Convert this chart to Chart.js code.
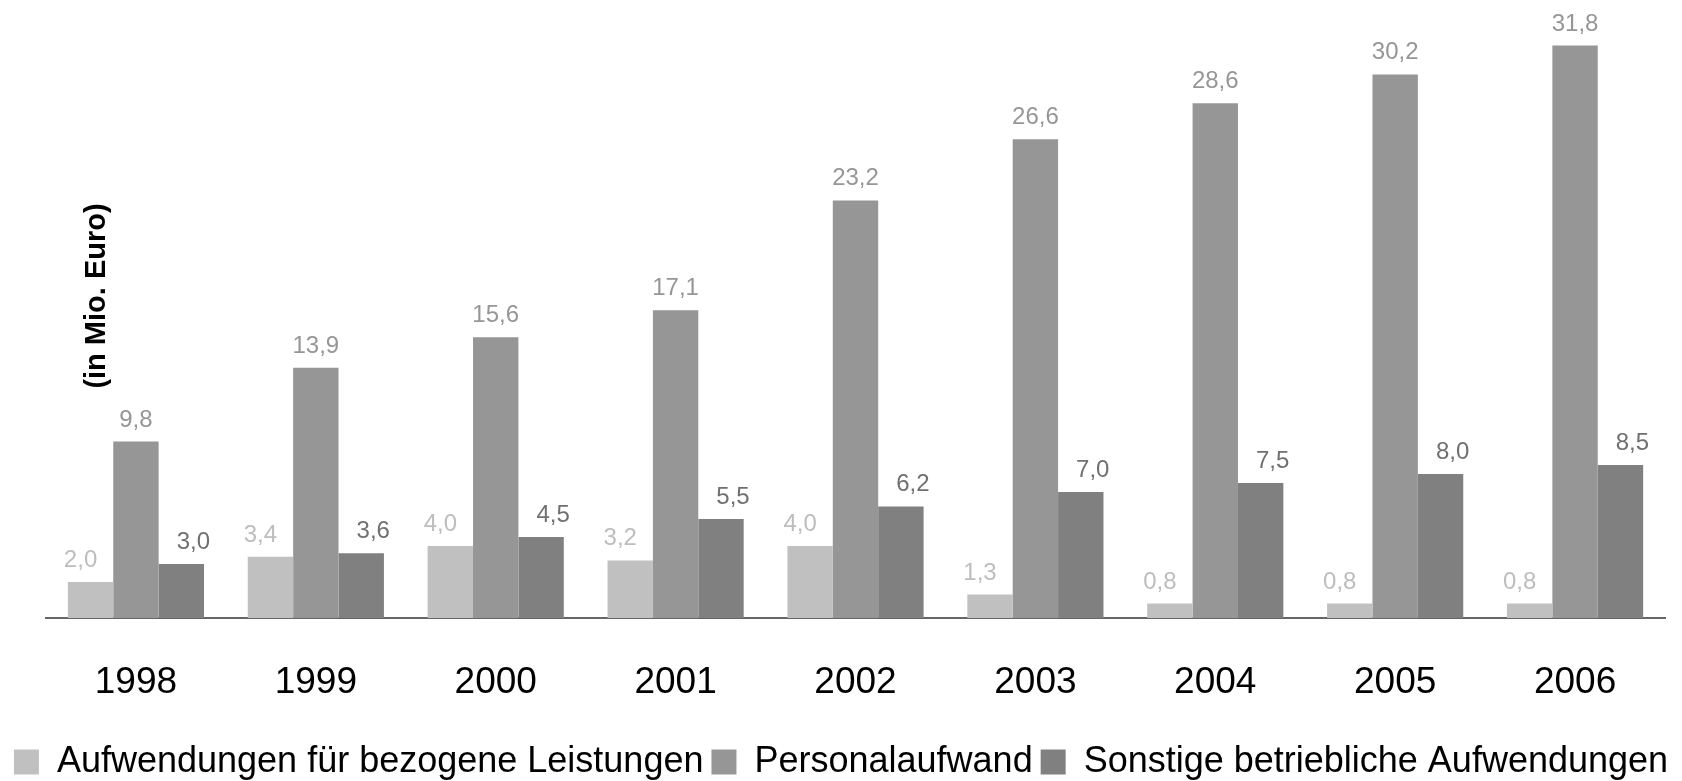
<!DOCTYPE html>
<html>
<head>
<meta charset="utf-8">
<script src="https://cdn.jsdelivr.net/npm/chart.js@4/dist/chart.umd.min.js"></script>
<style>
  body { margin: 0; background: #fff; }
  #wrap { width: 1682px; height: 781px; }
</style>
</head>
<body>
<div id="wrap"><canvas id="aufwand"></canvas></div>
<script>
var jahre = ["1998", "1999", "2000", "2001", "2002", "2003", "2004", "2005", "2006"];
var bezogeneLeistungen = [2.0, 3.4, 4.0, 3.2, 4.0, 1.3, 0.8, 0.8, 0.8];
var personalaufwand = [9.8, 13.9, 15.6, 17.1, 23.2, 26.6, 28.6, 30.2, 31.8];
var sonstigeAufwendungen = [3.0, 3.6, 4.5, 5.5, 6.2, 7.0, 7.5, 8.0, 8.5];

var schrift = '"Liberation Sans", Arial, sans-serif';

function komma(v) {
    return v.toFixed(1).replace(".", ",");
}

// Werte über den Balken
var wertLabels = {
    id: "wertLabels",
    afterDatasetsDraw: function (chart) {
        var ctx = chart.ctx;
        var farben = ["#bdbdbd", "#969696", "#707070"];
        var versatz = [-10, 0, 12];
        ctx.save();
        ctx.font = "24px " + schrift;
        ctx.textAlign = "center";
        ctx.textBaseline = "alphabetic";
        chart.data.datasets.forEach(function (ds, i) {
            chart.getDatasetMeta(i).data.forEach(function (bar, j) {
                ctx.fillStyle = farben[i];
                ctx.fillText(komma(ds.data[j]), bar.x + versatz[i], bar.y - 15);
            });
        });
        ctx.restore();
    },
};

// Achsentitel innerhalb der Fläche
var achsenTitel = {
    id: "achsenTitel",
    afterDraw: function (chart) {
        var ctx = chart.ctx;
        ctx.save();
        ctx.translate(chart.chartArea.left + 51, 296);
        ctx.rotate(-Math.PI / 2);
        ctx.font = "bold 29px " + schrift;
        ctx.fillStyle = "#000";
        ctx.textAlign = "center";
        ctx.textBaseline = "middle";
        ctx.fillText("(in Mio. Euro)", 0, 0);
        ctx.restore();
    },
};

// leere Achsen als Rand, damit die Legende die volle Breite behält
function leereAchse(position, breite) {
    return {
        position: position,
        display: true,
        min: 0,
        max: 34,
        grid: { display: false, drawTicks: false },
        border: { display: false },
        ticks: { display: false },
        afterFit: function (scale) {
            scale.width = breite;
        },
    };
}

var ctxAufwand = document.getElementById("aufwand").getContext("2d");

var chartAufwand = new Chart(ctxAufwand, {
    type: "bar",
    data: {
        labels: jahre,
        datasets: [
            {
                label: "Aufwendungen für bezogene Leistungen",
                data: bezogeneLeistungen,
                backgroundColor: "#c0c0c0",
                borderWidth: 0,
            },
            {
                label: "Personalaufwand",
                data: personalaufwand,
                backgroundColor: "#969696",
                borderWidth: 0,
            },
            {
                label: "Sonstige betriebliche Aufwendungen",
                data: sonstigeAufwendungen,
                backgroundColor: "#808080",
                borderWidth: 0,
            },
        ],
    },
    options: {
        responsive: true,
        maintainAspectRatio: false,
        animation: false,
        datasets: {
            bar: {
                barPercentage: 1.0,
                categoryPercentage: 0.757,
            },
        },
        layout: {
            padding: { left: 0, right: 0, top: 6, bottom: -9 },
        },
        plugins: {
            tooltip: { enabled: false },
            legend: {
                position: "bottom",
                labels: {
                    color: "#000",
                    boxWidth: 25,
                    boxHeight: 25,
                    padding: 8,
                    font: { family: schrift, size: 36 },
                },
            },
        },
        scales: {
            x: {
                grid: { display: false, drawTicks: false },
                border: { display: true, color: "#666", width: 2 },
                ticks: {
                    color: "#000",
                    padding: 43,
                    font: { family: schrift, size: 37 },
                },
                afterFit: function (scale) {
                    scale.height = 118;
                },
            },
            y: leereAchse("left", 46),
            yRechts: leereAchse("right", 17),
        },
    },
    plugins: [wertLabels, achsenTitel],
});
</script>
</body>
</html>
